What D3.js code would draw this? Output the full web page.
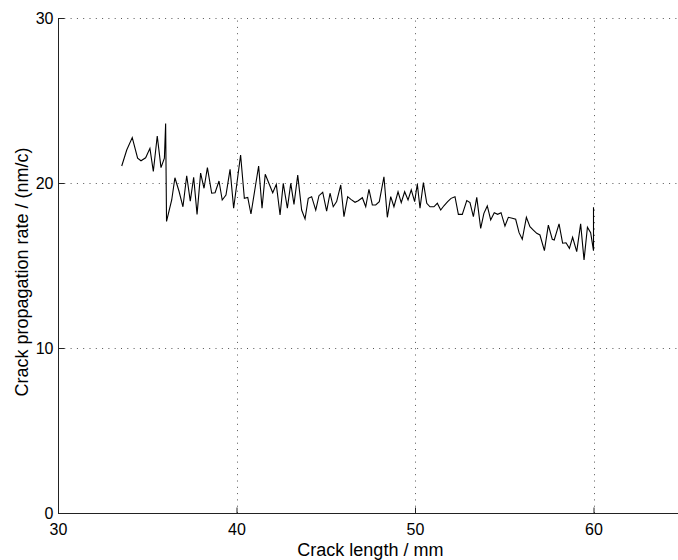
<!DOCTYPE html>
<html><head><meta charset="utf-8">
<script src="https://cdn.jsdelivr.net/npm/d3@7"></script>
<style>
html,body{margin:0;padding:0;background:#fff;}
svg{display:block;font-family:"Liberation Sans",Arial,Helvetica,sans-serif;}
</style></head>
<body><svg id="c" width="678" height="560"></svg>
<script>
const crackLength = [33.57,33.85,34.16,34.46,34.65,34.91,35.15,35.34,35.56,35.77,35.96,36.03,36.08,36.37,36.55,36.78,37.0,37.21,37.41,37.6,37.79,37.99,38.18,38.37,38.61,38.8,39.02,39.2,39.41,39.64,39.84,40.23,40.44,40.63,40.81,41.24,41.43,41.61,42.03,42.23,42.44,42.62,42.85,43.04,43.22,43.43,43.65,43.84,44.02,44.21,44.44,44.62,44.83,45.05,45.24,45.42,45.61,45.84,46.02,46.23,46.41,46.64,46.82,47.05,47.24,47.42,47.61,47.8,48.0,48.26,48.45,48.64,48.82,49.05,49.23,49.42,49.61,49.79,49.98,50.13,50.28,50.47,50.66,50.84,51.06,51.25,51.44,51.62,51.83,52.02,52.24,52.43,52.65,52.9,53.08,53.27,53.46,53.68,53.86,54.05,54.24,54.44,54.63,54.82,55.04,55.23,55.45,55.64,55.83,56.01,56.24,56.44,56.63,56.82,57.0,57.25,57.47,57.69,57.8,58.07,58.27,58.46,58.65,58.83,59.06,59.28,59.47,59.66,59.84,60.0,60.0];
const rate = [21.03,22.0,22.75,21.5,21.35,21.53,22.1,20.7,22.85,20.93,21.5,23.6,17.67,18.97,20.32,19.5,18.56,20.44,18.9,20.35,18.1,20.6,19.68,20.93,19.38,19.41,20.12,18.97,19.27,20.83,18.47,21.7,19.07,19.13,18.12,21.03,18.47,20.53,19.41,19.92,18.06,19.98,18.47,19.98,18.7,20.48,18.36,17.82,19.07,19.17,18.36,19.23,19.44,18.3,19.38,18.56,18.87,19.88,17.96,19.17,19.01,18.83,18.93,19.11,18.56,19.62,18.67,18.67,18.87,20.38,17.92,19.17,18.56,19.47,18.81,19.47,18.97,19.58,18.87,19.94,18.47,20.02,18.77,18.56,18.56,18.77,18.36,18.62,18.87,19.07,19.17,18.1,18.1,18.93,18.81,17.96,19.13,17.25,18.16,18.61,17.76,18.2,18.1,18.2,17.39,17.92,17.86,17.8,16.99,16.59,17.92,17.35,17.15,16.95,16.85,15.9,17.45,16.59,16.55,17.52,16.35,16.38,16.04,16.71,15.84,17.52,15.33,17.32,16.99,15.9,18.53];
const xTicks = [30,40,50,60];
const yTicks = [0,10,20,30];
const xDomain = [30,65];
const yDomain = [0,30];
const xLabel = "Crack length / mm";
const yLabel = "Crack propagation rate / (nm/c)";

const svg = d3.select("#c");
const L = 58, B = 513, T = 18, unit = 17.85;
const x = d3.scaleLinear().domain(xDomain).range([L, L + (xDomain[1]-xDomain[0])*unit]);
const y = d3.scaleLinear().domain(yDomain).range([B, T]);

// grid
const grid = svg.append("g").attr("stroke","#555").attr("stroke-width",1).attr("stroke-dasharray","1,5.3");
grid.selectAll(".gx").data(xTicks.filter(d=>d>30)).join("line")
  .attr("x1",d=>Math.round(x(d))+0.5).attr("x2",d=>Math.round(x(d))+0.5)
  .attr("y1",B).attr("y2",T);
grid.selectAll(".gy").data(yTicks.filter(d=>d>0)).join("line")
  .attr("y1",d=>Math.round(y(d))+0.5).attr("y2",d=>Math.round(y(d))+0.5)
  .attr("x1",L).attr("x2",678);

// axes
const ax = svg.append("g").attr("transform",`translate(0,${B+0.5})`)
  .call(d3.axisBottom(x).tickValues(xTicks).tickSize(-6).tickPadding(10).tickFormat(d3.format("d")));
const ay = svg.append("g").attr("transform",`translate(${L+0.5},0)`)
  .call(d3.axisLeft(y).tickValues(yTicks).tickSize(-6).tickPadding(5).tickFormat(d3.format("d")));
[ax,ay].forEach(g=>{
  g.select(".domain").attr("stroke","#222");
  g.selectAll(".tick line").attr("stroke","#222");
  g.selectAll("text").attr("font-size",16).attr("fill","#000")
   .attr("font-family","\"Liberation Sans\",Arial,sans-serif");
});
ax.select(".domain").attr("d",`M${L},0H678`);
ay.select(".domain").attr("d",`M0,${B}V${T}`);

// line
const pts = crackLength.map((d,i)=>[d, rate[i]]);
svg.append("path").datum(pts)
  .attr("fill","none").attr("stroke","#000").attr("stroke-width",1.1)
  .attr("stroke-linejoin","miter")
  .attr("d", d3.line().x(d=>x(d[0])).y(d=>y(d[1])));

// labels
svg.append("text").attr("x",x(47.5)).attr("y",556).attr("text-anchor","middle")
  .attr("font-size",18).text(xLabel);
svg.append("text").attr("transform",`translate(28,272) rotate(-90)`).attr("text-anchor","middle")
  .attr("font-size",18).text(yLabel);
</script></body></html>
